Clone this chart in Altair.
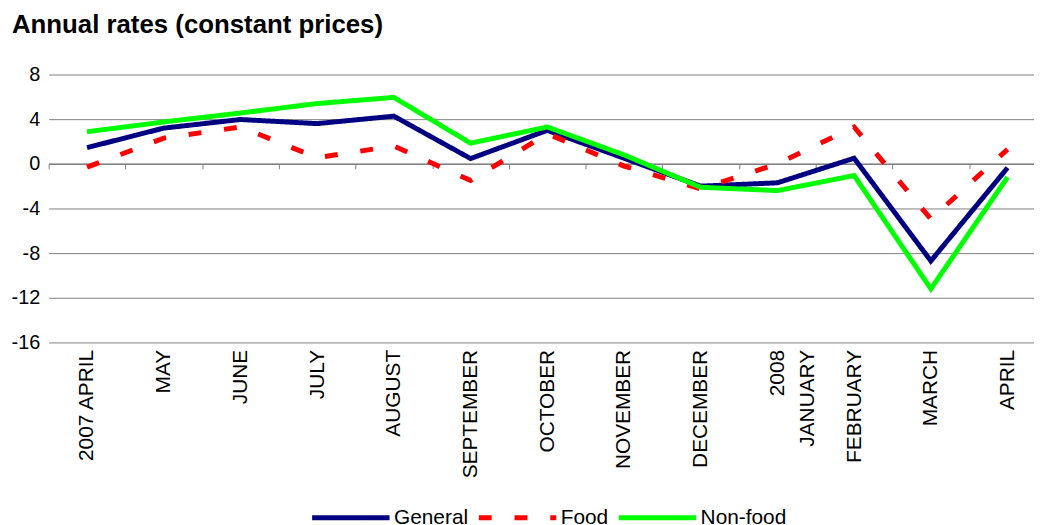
import altair as alt
import pandas as pd

months = ["2007 APRIL", "MAY", "JUNE", "JULY", "AUGUST", "SEPTEMBER", "OCTOBER",
          "NOVEMBER", "DECEMBER", "2008|JANUARY", "FEBRUARY", "MARCH", "APRIL"]
general = [1.45, 3.2, 3.97, 3.6, 4.27, 0.47, 3.0, 0.5, -2.0, -1.7, 0.5, -8.7, -0.35]
food = [-0.3, 2.3, 3.3, 0.55, 1.6, -1.5, 2.7, -0.2, -2.25, 0.0, 3.3, -4.95, 1.3]
nonfood = [2.87, 3.75, 4.55, 5.4, 5.95, 1.85, 3.3, 0.8, -2.1, -2.4, -1.05, -11.2, -1.2]
series = ["General", "Food", "Non-food"]
y_ticks = [-16, -12, -8, -4, 0, 4, 8]

rows = []
for name, vals in zip(series, [general, food, nonfood]):
    for m, v in zip(months, vals):
        rows.append({"month": m, "value": v, "series": name})
df = pd.DataFrame(rows)

FONT = "Liberation Sans"

x_axis = alt.Axis(
    title=None, offset=-180, domainColor="#808080", domainWidth=1.5,
    tickColor="#808080", tickSize=5, tickBand="extent", labelAngle=270,
    labelPadding=182, labelFontSize=21, labelFont=FONT, labelColor="black",
    labelAlign="right", labelBaseline="middle",
    labelExpr=("indexof(datum.label, '|') >= 0 ? "
               "[split(datum.label, '|')[0] + '\u2003\u2003', "
               "split(datum.label, '|')[1]] : datum.label"),
    labelLineHeight=30, grid=False, labelOverlap=False,
)
y_axis = alt.Axis(
    title=None, values=y_ticks, domain=False, ticks=False, grid=True,
    gridColor="#808080", gridWidth=1, labelFontSize=20, labelFont=FONT,
    labelColor="black", labelPadding=9,
    labelExpr="datum.value < 0 ? '-' + abs(datum.value) : '' + datum.value",
)

legend = alt.Legend(title=None, orient="none", legendX=263, legendY=405,
                    direction="horizontal")

chart = alt.Chart(df).mark_line(strokeWidth=5, strokeCap="butt").encode(
    x=alt.X("month:N", sort=months, axis=x_axis,
            scale=alt.Scale(range=[0, 1005], paddingInner=0, paddingOuter=0)),
    y=alt.Y("value:Q", axis=y_axis, scale=alt.Scale(domain=[-16, 8], nice=False)),
    color=alt.Color("series:N", sort=series,
                    scale=alt.Scale(domain=series, range=["#000080", "#FF0000", "#00FF00"]),
                    legend=legend),
    strokeDash=alt.StrokeDash("series:N", sort=series,
                              scale=alt.Scale(domain=series, range=[[1, 0], [13, 23], [1, 0]]),
                              legend=legend),
    detail="series:N",
).properties(
    width=993, height=270,
    padding={"left": 41, "top": 65, "right": 0, "bottom": 187},
    autosize=alt.AutoSizeParams(type="none"),
    title=alt.Title("Annual rates (constant prices)", anchor="start", frame="group",
                    fontSize=26, fontWeight="bold", font=FONT, color="black",
                    offset=27, dx=-37),
).configure_view(stroke=None).configure_legend(
    labelFontSize=21, labelFont=FONT, labelColor="black", symbolSize=6084,
    symbolStrokeWidth=5, labelOffset=2, columnPadding=0, padding=0,
    symbolType="stroke",
)

chart.save("out.html", embed_options={"renderer": "svg", "actions": False})
